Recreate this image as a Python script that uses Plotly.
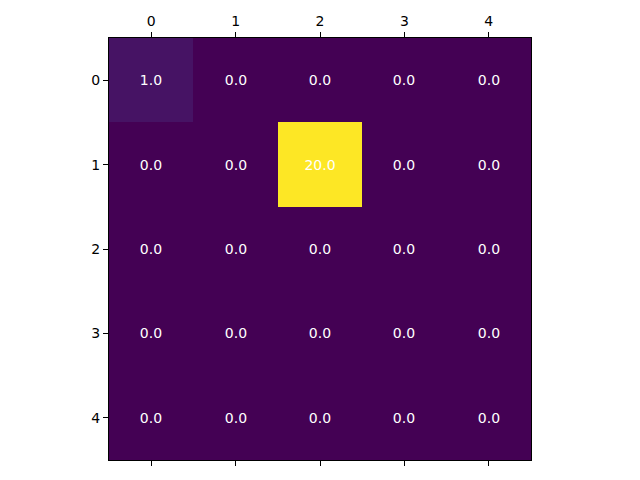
import plotly.graph_objects as go

rows = [0, 1, 2, 3, 4]
cols = [0, 1, 2, 3, 4]
values = [
    [1.0, 0.0, 0.0, 0.0, 0.0],
    [0.0, 0.0, 20.0, 0.0, 0.0],
    [0.0, 0.0, 0.0, 0.0, 0.0],
    [0.0, 0.0, 0.0, 0.0, 0.0],
    [0.0, 0.0, 0.0, 0.0, 0.0],
]

fig = go.Figure(go.Heatmap(
    z=values, x=cols, y=rows,
    colorscale="Viridis", zmin=0, zmax=20, showscale=False,
    texttemplate="%{z:.1f}",
    textfont=dict(color="white", size=14, family="DejaVu Sans"),
    xgap=0, ygap=0, hoverinfo="skip",
))

fig.update_layout(
    width=640, height=480,
    margin=dict(l=101, r=117, t=30, b=28, pad=0),
    paper_bgcolor="white", plot_bgcolor="white",
    font=dict(family="DejaVu Sans", size=14, color="black"),
)
fig.update_xaxes(
    side="top", range=[-0.5, 4.5], tickvals=cols, ticktext=[str(c) for c in cols],
    ticks="outside", ticklen=5, tickwidth=1, tickcolor="black",
    showline=True, linecolor="black", linewidth=1, mirror="ticks",
    showgrid=False, zeroline=False, automargin=False,
)
fig.update_yaxes(
    range=[4.5, -0.5], tickvals=rows, ticktext=[str(r) for r in rows],
    ticks="outside", ticklen=5, tickwidth=1, tickcolor="black",
    showline=True, linecolor="black", linewidth=1, mirror=True,
    showgrid=False, zeroline=False, automargin=False,
)

fig.write_html("out.html")
